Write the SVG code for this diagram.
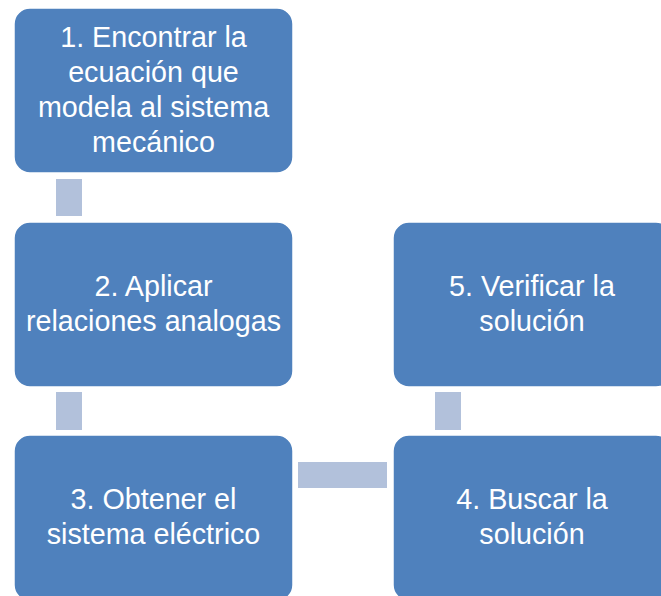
<svg xmlns="http://www.w3.org/2000/svg" width="661" height="596" viewBox="0 0 661 596">
<style>
.box{fill:#4F81BD;stroke:#ffffff;stroke-width:1.5}
.conn{fill:#B2C1DB}
.t{font-family:"Liberation Sans","Lato",sans-serif;font-size:28.7px;fill:#ffffff;text-anchor:middle}
</style>
<rect width="661" height="596" fill="#ffffff"/>
<g id="connectors">
<rect class="conn" x="56" y="179" width="26" height="37"/>
<rect class="conn" x="56" y="392" width="26" height="38"/>
<rect class="conn" x="298" y="462" width="89" height="26"/>
<rect class="conn" x="435" y="392" width="26" height="38"/>
</g>
<g id="n1">
<rect class="box" x="14" y="8" width="279" height="165" rx="16"/>
<text class="t" x="153.5" y="47">1. Encontrar la</text>
<text class="t" x="153.5" y="82">ecuación que</text>
<text class="t" x="153.5" y="117">modela al sistema</text>
<text class="t" x="153.5" y="152">mecánico</text>
</g>
<g id="n2">
<rect class="box" x="14" y="222" width="279" height="165" rx="16"/>
<text class="t" x="153.5" y="296">2. Aplicar</text>
<text class="t" x="153.5" y="331">relaciones analogas</text>
</g>
<g id="n3">
<rect class="box" x="14" y="435" width="279" height="166" rx="16"/>
<text class="t" x="153.5" y="509">3. Obtener el</text>
<text class="t" x="153.5" y="544">sistema eléctrico</text>
</g>
<g id="n4">
<rect class="box" x="393" y="435" width="279" height="166" rx="16"/>
<text class="t" x="532" y="509">4. Buscar la</text>
<text class="t" x="532" y="544">solución</text>
</g>
<g id="n5">
<rect class="box" x="393" y="222" width="279" height="165" rx="16"/>
<text class="t" x="532" y="296">5. Verificar la</text>
<text class="t" x="532" y="331">solución</text>
</g>
</svg>
